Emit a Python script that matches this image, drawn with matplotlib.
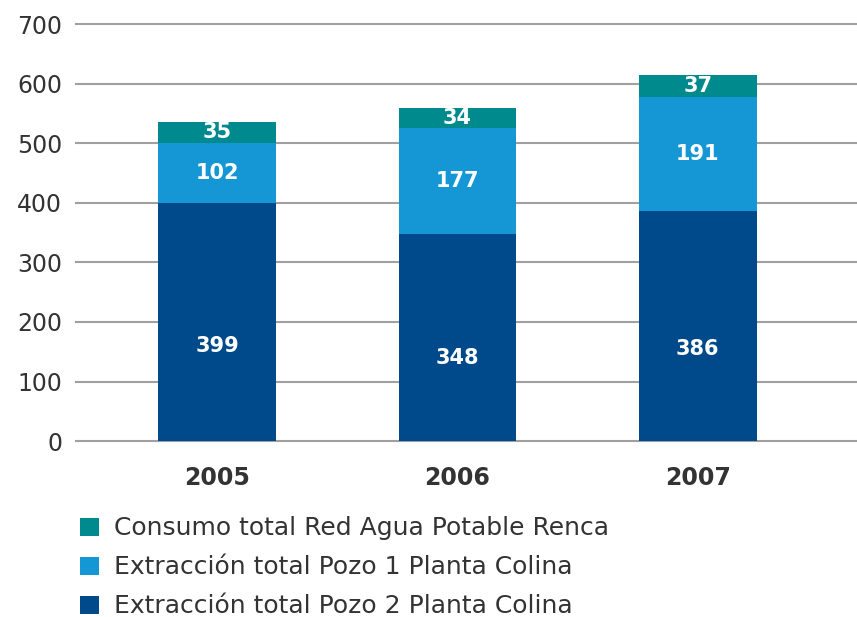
import numpy as np
import matplotlib.pyplot as plt

years = ['2005', '2006', '2007']
pozo2 = [399, 348, 386]
pozo1 = [102, 177, 191]
renca = [35, 34, 37]
labels = ['Consumo total Red Agua Potable Renca',
          'Extracción total Pozo 1 Planta Colina',
          'Extracción total Pozo 2 Planta Colina']
colors = ['#008a8e', '#1597d6', '#004a8c']

plt.rcParams['font.family'] = ['DejaVu Sans']

fig = plt.figure(figsize=(8.57, 6.17), dpi=100)
ax = fig.add_axes([0.0887, 0.285, 0.9113, 0.676])

x = np.arange(len(years))
w = 0.49
b1 = ax.bar(x, pozo2, w, color=colors[2], zorder=3)
b2 = ax.bar(x, pozo1, w, bottom=pozo2, color=colors[1], zorder=3)
bot3 = np.array(pozo2) + np.array(pozo1)
b3 = ax.bar(x, renca, w, bottom=bot3, color=colors[0], zorder=3)

# value labels
for i in range(len(years)):
    ax.text(x[i], pozo2[i] * 0.4, str(pozo2[i]), ha='center', va='center',
            color='white', fontsize=15, fontweight='bold', zorder=4)
    ax.text(x[i], pozo2[i] + pozo1[i] / 2, str(pozo1[i]), ha='center', va='center',
            color='white', fontsize=15, fontweight='bold', zorder=4)
    ax.text(x[i], bot3[i] + renca[i] / 2, str(renca[i]), ha='center', va='center',
            color='white', fontsize=15, fontweight='bold', zorder=4)

ax.set_ylim(0, 700)
ax.set_xlim(-0.5875, 2.6625)
ax.set_yticks(np.arange(0, 701, 100))
ax.set_xticks(x)
ax.set_xticklabels(years, fontweight='bold', fontsize=17, color='#333333')
ax.tick_params(axis='y', length=0, pad=10, labelsize=17, labelcolor='#333333')
ax.tick_params(axis='x', length=0, pad=18)
ax.yaxis.grid(True, color='#a0a0a0', linewidth=1.5, zorder=0)
for gl in ax.get_ygridlines():
    gl.set_clip_on(False)
for s in ax.spines.values():
    s.set_visible(False)

leg = fig.legend([b3, b2, b1], labels, loc='upper left',
                 bbox_to_anchor=(0.0933, 0.163), frameon=False, fontsize=18,
                 handlelength=0.75, handleheight=0.75, handletextpad=0.6,
                 labelspacing=0.6, borderpad=0, borderaxespad=0)
for t in leg.get_texts():
    t.set_color('#333333')

fig.savefig('out.png', dpi=100)
